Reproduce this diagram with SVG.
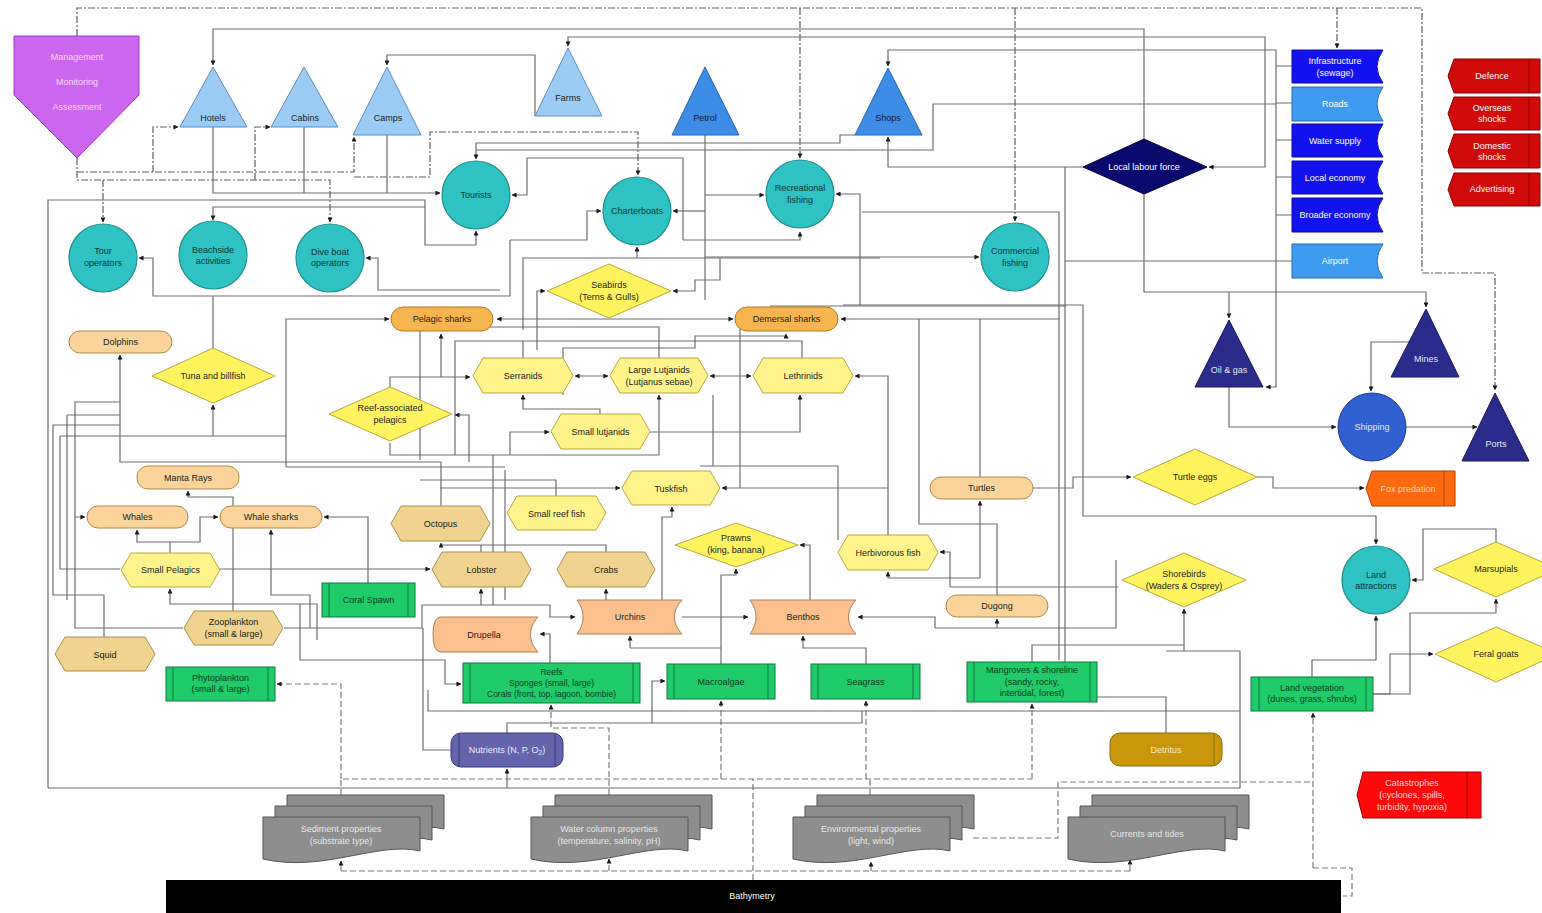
<svg xmlns="http://www.w3.org/2000/svg" width="1542" height="913" viewBox="0 0 1542 913">
<defs>
<marker id="a" viewBox="0 0 6 6" refX="5.5" refY="3" markerWidth="5" markerHeight="5" orient="auto-start-reverse" markerUnits="userSpaceOnUse"><path d="M0,0 L6,3 L0,6 z" fill="#1a1a1a"/></marker>
<path id="doc" d="M0,0 H157 V34 C115,24 60,56 0,42 Z"/>
<style>
.c{fill:none;stroke:#6e6e6e;stroke-width:1.2}
.d{fill:none;stroke:#7a7a7a;stroke-width:1.2;stroke-dasharray:6 3}
.dd{fill:none;stroke:#5e5e5e;stroke-width:1.2;stroke-dasharray:7 2 2 2}
text{font-family:"Liberation Sans",Arial,sans-serif;font-size:9px;text-anchor:middle;fill:#222}
text.w{fill:#ffffff}
text.lw{fill:#e6e6e6}
text.pk{fill:#f5d8ff}
text.nv{fill:#101840}
text.fx{fill:#ffd6b8}
text.nu{fill:#ececff}
text.de{fill:#f8ecc8}
text.ca{fill:#ffdcdc}
text.gt{fill:#0b3d1d}
text.ct{fill:#0c3636}
.tl{fill:#9ccbf4;stroke:#5a8ec0;stroke-width:1}
.tm{fill:#3d8de6;stroke:#2465b0;stroke-width:1}
.tn{fill:#2b2b8c;stroke:#181860;stroke-width:1}
.ci{fill:#2fc2c2;stroke:#1f8f8f;stroke-width:1.2}
.bb{fill:#1212ee;stroke:#0a0a9a;stroke-width:1}
.bl{fill:#3f9bef;stroke:#2468b0;stroke-width:1}
.rd{fill:#d10a0a;stroke:#8a0000;stroke-width:1}
.yd{fill:#fff45e;stroke:#b8a83a;stroke-width:1}
.yh{fill:#fff48c;stroke:#b8a83a;stroke-width:1}
.th{fill:#efd38e;stroke:#a8904c;stroke-width:1}
.pl{fill:#fbd49c;stroke:#b0874a;stroke-width:1}
.sh{fill:#f7b550;stroke:#b07a20;stroke-width:1}
.pe{fill:#fbc08e;stroke:#b08050;stroke-width:1}
.gr{fill:#1fcb6b;stroke:#0c7a3c;stroke-width:1}
.gl{stroke:#0c7a3c;stroke-width:1}
.gd{fill:#8e8e8e;stroke:#555;stroke-width:1}
</style>
</defs>
<rect x="0" y="0" width="1542" height="913" fill="#ffffff"/>

<g id="connectors">
<path class="dd" d="M77,36 V8 H1422 V273 H1495 V390" marker-end="url(#a)"/>
<path class="dd" d="M800,8 V158" marker-end="url(#a)"/>
<path class="dd" d="M1015,8 V221" marker-end="url(#a)"/>
<path class="dd" d="M1337,8 V48" marker-end="url(#a)"/>
<path class="dd" d="M77,158 V180 H330 V222" marker-end="url(#a)"/>
<path class="dd" d="M77,172 H354 V137" marker-end="url(#a)"/>
<path class="dd" d="M103,180 V222" marker-end="url(#a)"/>
<path class="dd" d="M153,172 V127 H178" marker-end="url(#a)"/>
<path class="dd" d="M255,180 V127 H270" marker-end="url(#a)"/>
<path class="dd" d="M354,177 H430 V132 H638 V175" marker-end="url(#a)"/>
<path class="d" d="M341,795 V779 H1032"/>
<path class="d" d="M341,779 V684 H277" marker-end="url(#a)"/>
<path class="d" d="M609,795 V728 H551 V705" marker-end="url(#a)"/>
<path class="d" d="M721,779 V701" marker-end="url(#a)"/>
<path class="d" d="M866,779 V701" marker-end="url(#a)"/>
<path class="d" d="M1032,779 V704" marker-end="url(#a)"/>
<path class="d" d="M870,795 V779"/>
<path class="d" d="M753,880 V779"/>
<path class="d" d="M973,838 H1058 V782 H1313"/>
<path class="d" d="M1313,868 V713" marker-end="url(#a)"/>
<path class="d" d="M1313,868 H1352 V896 H1343"/>
<path class="d" d="M341,871 H1130"/>
<path class="d" d="M341,871 V861" marker-end="url(#a)"/>
<path class="d" d="M609,871 V859" marker-end="url(#a)"/>
<path class="d" d="M871,871 V862" marker-end="url(#a)"/>
<path class="d" d="M1130,871 V860" marker-end="url(#a)"/>
<path class="c" d="M1144,139 V29 H213 V65" marker-end="url(#a)"/>
<path class="c" d="M535,116 V55 H387 V65" marker-end="url(#a)"/>
<path class="c" d="M1209,167 H1265 V37 H568 V46" marker-start="url(#a)" marker-end="url(#a)"/>
<path class="c" d="M1276,215 V50 H888 V66" marker-end="url(#a)"/>
<path class="c" d="M1276,66 H1292 M1276,103 H1292 M1276,140 H1292 M1276,177 H1292 M1276,215 H1292"/>
<path class="c" d="M1276,104 H933 V150 H476"/>
<path class="c" d="M855,135 H840 V143 H476 V159" marker-end="url(#a)"/>
<path class="c" d="M1083,167 H888 V137" marker-end="url(#a)"/>
<path class="c" d="M1276,215 V387 H1266" marker-end="url(#a)"/>
<path class="c" d="M1292,261 H1065"/>
<path class="c" d="M1166,733 V697 H1065 V167"/>
<path class="c" d="M862,212 H1059 V660"/>
<path class="c" d="M1144,194 V292 H1426 V307" marker-end="url(#a)"/>
<path class="c" d="M1229,292 V318" marker-end="url(#a)"/>
<path class="c" d="M1229,387 V427 H1336" marker-end="url(#a)"/>
<path class="c" d="M1409,342 H1371 V391" marker-end="url(#a)"/>
<path class="c" d="M1406,427 H1477" marker-end="url(#a)"/>
<path class="c" d="M705,135 V300"/>
<path class="c" d="M705,195 H764" marker-end="url(#a)"/>
<path class="c" d="M705,211 H673" marker-end="url(#a)"/>
<path class="c" d="M705,257 H979" marker-end="url(#a)"/>
<path class="c" d="M860,305 V194 H836" marker-end="url(#a)"/>
<path class="c" d="M843,305 H1083 V516 H1376 V544" marker-end="url(#a)"/>
<path class="c" d="M1033,488 H1073 V477 H1131" marker-end="url(#a)"/>
<path class="c" d="M1257,477 H1273 V488 H1364" marker-end="url(#a)"/>
<path class="c" d="M1496,542 V529 H1423 V580 H1412" marker-end="url(#a)"/>
<path class="c" d="M1312,677 V660 H1376 V616" marker-end="url(#a)"/>
<path class="c" d="M1373,694 H1390 V654 H1433" marker-end="url(#a)"/>
<path class="c" d="M1373,694 H1410 V613 H1496 V599" marker-end="url(#a)"/>
<path class="c" d="M48,788 V200 H425 V245 H476 V231" marker-end="url(#a)"/>
<path class="c" d="M48,788 H1240 V651 H1166"/>
<path class="c" d="M425,207 H213 V220" marker-end="url(#a)"/>
<path class="c" d="M213,127 V193 H440" marker-end="url(#a)"/>
<path class="c" d="M304,127 V193 M387,135 V193"/>
<path class="c" d="M683,240 V158 H527 V195 H512" marker-end="url(#a)"/>
<path class="c" d="M683,240 H800 V232" marker-end="url(#a)"/>
<path class="c" d="M510,240 V296 H153 V258 H139" marker-end="url(#a)"/>
<path class="c" d="M510,240 H587 V211 H601" marker-end="url(#a)"/>
<path class="c" d="M500,290 H378 V258 H366" marker-end="url(#a)"/>
<path class="c" d="M523,330 V258 H880"/>
<path class="c" d="M637,258 V247" marker-end="url(#a)"/>
<path class="c" d="M720,258 V280 H695 V291 H673" marker-end="url(#a)"/>
<path class="c" d="M537,350 V291 H545" marker-end="url(#a)"/>
<path class="c" d="M213,348 V296"/>
<path class="c" d="M497,319 H733" marker-start="url(#a)" marker-end="url(#a)"/>
<path class="c" d="M286,467 V319 H389" marker-end="url(#a)"/>
<path class="c" d="M441,377 V334" marker-end="url(#a)"/>
<path class="c" d="M390,387 V377 H470" marker-end="url(#a)"/>
<path class="c" d="M659,358 V327 H420 V460"/>
<path class="c" d="M802,358 V341 H455 V455"/>
<path class="c" d="M523,358 V341"/>
<path class="c" d="M563,395 V348 H695 V336 H786 V334" marker-end="url(#a)"/>
<path class="c" d="M1060,319 H841" marker-end="url(#a)"/>
<path class="c" d="M770,306 H1066"/>
<path class="c" d="M919,319 V524 H997 V595"/>
<path class="c" d="M980,477 V319"/>
<path class="c" d="M575,376 H608" marker-start="url(#a)" marker-end="url(#a)"/>
<path class="c" d="M710,376 H751" marker-start="url(#a)" marker-end="url(#a)"/>
<path class="c" d="M888,535 V376 H855" marker-end="url(#a)"/>
<path class="c" d="M888,488 H722" marker-end="url(#a)"/>
<path class="c" d="M440,488 H620" marker-end="url(#a)"/>
<path class="c" d="M600,414 V409 H523 V395" marker-end="url(#a)"/>
<path class="c" d="M390,443 V455 H659 V395" marker-end="url(#a)"/>
<path class="c" d="M650,432 H800 V395" marker-end="url(#a)"/>
<path class="c" d="M510,455 V432 H549" marker-end="url(#a)"/>
<path class="c" d="M469,462 V415 H455" marker-end="url(#a)"/>
<path class="c" d="M441,506 V462 H120 V355" marker-end="url(#a)"/>
<path class="c" d="M60,436 H286"/>
<path class="c" d="M213,436 V405" marker-end="url(#a)"/>
<path class="c" d="M286,467 H505"/>
<path class="c" d="M233,611 V497 H188 V491" marker-end="url(#a)"/>
<path class="c" d="M120,402 H75 V517 H85" marker-end="url(#a)"/>
<path class="c" d="M170,553 V542 H137 V530" marker-end="url(#a)"/>
<path class="c" d="M170,542 H200 V517 H218" marker-end="url(#a)"/>
<path class="c" d="M368,583 V517 H324" marker-end="url(#a)"/>
<path class="c" d="M310,628 V595 H271 V530" marker-end="url(#a)"/>
<path class="c" d="M60,436 V569 H120 M220,569 H430" marker-end="url(#a)"/>
<path class="c" d="M317,640 V604 H170 V589" marker-end="url(#a)"/>
<path class="c" d="M75,517 V628 H183"/>
<path class="c" d="M300,604 V660 H445 V684 H461" marker-end="url(#a)"/>
<path class="c" d="M284,628 H422 V605 H481 V589" marker-end="url(#a)"/>
<path class="c" d="M481,605 H550 V617 H575" marker-end="url(#a)"/>
<path class="c" d="M550,663 V634 H540" marker-end="url(#a)"/>
<path class="c" d="M507,788 V769" marker-end="url(#a)"/>
<path class="c" d="M507,733 V723 H652 V681 H665" marker-end="url(#a)"/>
<path class="c" d="M451,750 H423 V628"/>
<path class="c" d="M428,690 V711 H1240"/>
<path class="c" d="M652,723 H862 V711"/>
<path class="c" d="M630,648 V636" marker-end="url(#a)"/>
<path class="c" d="M630,648 H721"/>
<path class="c" d="M682,617 H748" marker-end="url(#a)"/>
<path class="c" d="M721,664 V575 H736 V569" marker-end="url(#a)"/>
<path class="c" d="M866,664 V648 H803 V636" marker-end="url(#a)"/>
<path class="c" d="M935,628 V617 H858" marker-end="url(#a)"/>
<path class="c" d="M935,628 H1116 V560"/>
<path class="c" d="M997,628 V619" marker-end="url(#a)"/>
<path class="c" d="M980,578 H888 V572" marker-end="url(#a)"/>
<path class="c" d="M980,578 V501" marker-end="url(#a)"/>
<path class="c" d="M950,587 V552 H940" marker-end="url(#a)"/>
<path class="c" d="M950,587 H1118"/>
<path class="c" d="M810,600 V545 H800" marker-end="url(#a)"/>
<path class="c" d="M700,466 H838 V540"/>
<path class="c" d="M662,600 V517 H672 V507" marker-end="url(#a)"/>
<path class="c" d="M606,600 V589" marker-end="url(#a)"/>
<path class="c" d="M606,552 V545 H441 V543" marker-end="url(#a)"/>
<path class="c" d="M481,552 V545"/>
<path class="c" d="M556,496 V480 H420"/>
<path class="c" d="M493,455 V605"/>
<path class="c" d="M505,470 V600"/>
<path class="c" d="M1184,651 V609" marker-end="url(#a)"/>
<path class="c" d="M1032,662 V645 H1184"/>
<path class="c" d="M104,637 V595 H53 V425 H120"/>
<path class="c" d="M67,415 H120 M67,415 V600"/>
<path class="c" d="M740,320 V488"/>
<path class="c" d="M713,395 V466"/>
</g>

<g id="management"><path d="M14,36 H139 V95 L77,158 L14,95 Z" fill="#cc66ee" stroke="#9b3cc0"/><text class="pk" x="77" y="60">Management</text><text class="pk" x="77" y="85">Monitoring</text><text class="pk" x="77" y="110">Assessment</text></g>

<g id="hotels"><polygon class="tl" points="213,67 180,127 247,127"/><text x="213" y="121">Hotels</text></g>
<g id="cabins"><polygon class="tl" points="304,67 271,127 338,127"/><text x="305" y="121">Cabins</text></g>
<g id="camps"><polygon class="tl" points="387,67 353,135 421,135"/><text x="388" y="121">Camps</text></g>
<g id="farms"><polygon class="tl" points="568,48 535,116 602,116"/><text x="568" y="101">Farms</text></g>
<g id="petrol"><polygon class="tm" points="705,67 672,135 739,135"/><text class="nv" x="705" y="121">Petrol</text></g>
<g id="shops"><polygon class="tm" points="888,68 855,135 922,135"/><text class="nv" x="888" y="121">Shops</text></g>

<g id="infrastructure"><path class="bb" d="M1292,50 H1383 Q1371,66.5 1383,83 H1292 Z"/><text class="w" x="1335" y="64">Infrastructure</text><text class="w" x="1335" y="76">(sewage)</text></g>
<g id="roads"><path class="bl" d="M1292,87 H1383 Q1371,104 1383,121 H1292 Z"/><text class="w" x="1335" y="107">Roads</text></g>
<g id="water-supply"><path class="bb" d="M1292,124 H1383 Q1371,140.5 1383,157 H1292 Z"/><text class="w" x="1335" y="144">Water supply</text></g>
<g id="local-economy"><path class="bb" d="M1292,161 H1383 Q1371,177.5 1383,194 H1292 Z"/><text class="w" x="1335" y="181">Local economy</text></g>
<g id="broader-economy"><path class="bb" d="M1292,198 H1383 Q1371,215 1383,232 H1292 Z"/><text class="w" x="1335" y="218">Broader economy</text></g>
<g id="airport"><path class="bl" d="M1292,244 H1383 Q1371,261 1383,278 H1292 Z"/><text class="w" x="1335" y="264">Airport</text></g>

<g id="defence"><path class="rd" d="M1454,59 H1540 V93 H1454 L1448,76 Z"/><line x1="1529" y1="59" x2="1529" y2="93" stroke="#8a0000"/><text class="w" x="1492" y="79">Defence</text></g>
<g id="overseas"><path class="rd" d="M1454,97 H1540 V130 H1454 L1448,113.5 Z"/><line x1="1529" y1="97" x2="1529" y2="130" stroke="#8a0000"/><text class="w" x="1492" y="111">Overseas</text><text class="w" x="1492" y="122">shocks</text></g>
<g id="domestic"><path class="rd" d="M1454,134 H1540 V168 H1454 L1448,151 Z"/><line x1="1529" y1="134" x2="1529" y2="168" stroke="#8a0000"/><text class="w" x="1492" y="149">Domestic</text><text class="w" x="1492" y="160">shocks</text></g>
<g id="advertising"><path class="rd" d="M1454,173 H1540 V206 H1454 L1448,189.5 Z"/><line x1="1529" y1="173" x2="1529" y2="206" stroke="#8a0000"/><text class="w" x="1492" y="192">Advertising</text></g>

<g id="labour"><polygon points="1083,167 1144,139 1207,167 1144,194" fill="#0a0a6e" stroke="#050540"/><text class="w" x="1144" y="170">Local labour force</text></g>

<g id="tourists"><circle class="ci" cx="476" cy="195" r="34"/><text class="ct" x="476" y="198">Tourists</text></g>
<g id="charterboats"><circle class="ci" cx="637" cy="211" r="34"/><text class="ct" x="637" y="214">Charterboats</text></g>
<g id="recreational"><circle class="ci" cx="800" cy="194" r="34"/><text class="ct" x="800" y="191">Recreational</text><text class="ct" x="800" y="203">fishing</text></g>
<g id="commercial"><circle class="ci" cx="1015" cy="257" r="34"/><text class="ct" x="1015" y="254">Commercial</text><text class="ct" x="1015" y="266">fishing</text></g>
<g id="tour-operators"><circle class="ci" cx="103" cy="258" r="34"/><text class="ct" x="103" y="254">Tour</text><text class="ct" x="103" y="266">operators</text></g>
<g id="beachside"><circle class="ci" cx="213" cy="255" r="34"/><text class="ct" x="213" y="253">Beachside</text><text class="ct" x="213" y="264">activities</text></g>
<g id="diveboat"><circle class="ci" cx="330" cy="258" r="34"/><text class="ct" x="330" y="255">Dive boat</text><text class="ct" x="330" y="266">operators</text></g>

<g id="oilgas"><polygon class="tn" points="1229,320 1195,387 1263,387"/><text class="lw" x="1229" y="373">Oil &amp; gas</text></g>
<g id="mines"><polygon class="tn" points="1426,309 1391,377 1459,377"/><text class="lw" x="1426" y="362">Mines</text></g>
<g id="shipping"><circle cx="1372" cy="427" r="34" fill="#3060d0" stroke="#1c3c90"/><text class="lw" x="1372" y="430">Shipping</text></g>
<g id="ports"><polygon class="tn" points="1495,393 1462,461 1529,461"/><text class="lw" x="1496" y="447">Ports</text></g>

<g id="seabirds"><polygon class="yd" points="547,291 609,264 671,291 609,318"/><text x="609" y="288">Seabirds</text><text x="609" y="300">(Terns &amp; Gulls)</text></g>
<g id="tuna"><polygon class="yd" points="152,376 213,348 275,376 213,403"/><text x="213" y="379">Tuna and billfish</text></g>
<g id="reef-pelagics"><polygon class="yd" points="329,414 390,387 452,414 390,441"/><text x="390" y="411">Reef-associated</text><text x="390" y="423">pelagics</text></g>
<g id="turtle-eggs"><polygon class="yd" points="1133,477 1195,449 1257,477 1195,505"/><text x="1195" y="480">Turtle eggs</text></g>
<g id="prawns"><polygon class="yd" points="675,545 736,523 798,545 736,567"/><text x="736" y="541">Prawns</text><text x="736" y="553">(king, banana)</text></g>
<g id="shorebirds"><polygon class="yd" points="1122,580 1184,553 1246,580 1184,607"/><text x="1184" y="577">Shorebirds</text><text x="1184" y="589">(Waders &amp; Osprey)</text></g>
<g id="marsupials"><polygon class="yd" points="1434,569 1496,542 1558,569 1496,597"/><text x="1496" y="572">Marsupials</text></g>
<g id="feral-goats"><polygon class="yd" points="1435,654 1496,627 1558,654 1496,682"/><text x="1496" y="657">Feral goats</text></g>
<g id="fox"><path d="M1372,471 H1455 V506 H1372 L1366,488.5 Z" fill="#ff6a10" stroke="#b04000"/><line x1="1444" y1="471" x2="1444" y2="506" stroke="#b04000"/><text class="fx" x="1408" y="491.5">Fox predation</text></g>
<g id="land-attractions"><circle class="ci" cx="1376" cy="580" r="34"/><text class="ct" x="1376" y="578">Land</text><text class="ct" x="1376" y="589">attractions</text></g>

<g id="pelagic-sharks"><rect class="sh" x="391" y="307" width="102" height="24" rx="12"/><text x="442" y="322">Pelagic sharks</text></g>
<g id="demersal-sharks"><rect class="sh" x="735" y="307" width="103" height="24" rx="12"/><text x="786.5" y="322">Demersal sharks</text></g>
<g id="dolphins"><rect class="pl" x="69" y="331" width="103" height="22" rx="11"/><text x="120.5" y="345">Dolphins</text></g>
<g id="manta"><rect class="pl" x="137" y="466" width="102" height="23" rx="11"/><text x="188" y="480.5">Manta Rays</text></g>
<g id="whales"><rect class="pl" x="87" y="506" width="101" height="22" rx="11"/><text x="137.5" y="520">Whales</text></g>
<g id="whale-sharks"><rect class="pl" x="220" y="506" width="102" height="22" rx="11"/><text x="271" y="520">Whale sharks</text></g>
<g id="turtles"><rect class="pl" x="930" y="477" width="103" height="22" rx="11"/><text x="981.5" y="491">Turtles</text></g>
<g id="dugong"><rect class="pl" x="946" y="595" width="102" height="22" rx="11"/><text x="997" y="609">Dugong</text></g>

<g id="small-pelagics"><polygon class="yh" points="121,570 131,553 210,553 220,570 210,587 131,587"/><text x="170.5" y="573">Small Pelagics</text></g>
<g id="serranids"><polygon class="yh" points="473,375.5 483,358 563,358 573,375.5 563,393 483,393"/><text x="523" y="379">Serranids</text></g>
<g id="large-lutjanids"><polygon class="yh" points="610,375.5 620,358 698,358 708,375.5 698,393 620,393"/><text x="659" y="373">Large Lutjanids</text><text x="659" y="384.5">(Lutjanus sebae)</text></g>
<g id="lethrinids"><polygon class="yh" points="753,375.5 763,358 843,358 853,375.5 843,393 763,393"/><text x="803" y="379">Lethrinids</text></g>
<g id="small-lutjanids"><polygon class="yh" points="551,431.5 561,414 640,414 650,431.5 640,449 561,449"/><text x="600.5" y="435">Small lutjanids</text></g>
<g id="tuskfish"><polygon class="yh" points="622,488 632,471 710,471 720,488 710,505 632,505"/><text x="671" y="491.5">Tuskfish</text></g>
<g id="small-reef-fish"><polygon class="yh" points="507,513 517,496 596,496 606,513 596,530 517,530"/><text x="556.5" y="516.5">Small reef fish</text></g>
<g id="herbivorous"><polygon class="yh" points="838,552.5 848,535 928,535 938,552.5 928,570 848,570"/><text x="888" y="556">Herbivorous fish</text></g>
<g id="octopus"><polygon class="th" points="391,523.5 401,506 480,506 490,523.5 480,541 401,541"/><text x="440.5" y="527">Octopus</text></g>
<g id="lobster"><polygon class="th" points="432,569.5 442,552 521,552 531,569.5 521,587 442,587"/><text x="481.5" y="573">Lobster</text></g>
<g id="crabs"><polygon class="th" points="557,569.5 567,552 645,552 655,569.5 645,587 567,587"/><text x="606" y="573">Crabs</text></g>
<g id="squid"><polygon class="th" points="55,654 65,637 145,637 155,654 145,671 65,671"/><text x="105" y="657.5">Squid</text></g>
<g id="zooplankton"><polygon class="th" points="184,628 194,611 273,611 283,628 273,645 194,645"/><text x="233.5" y="625">Zooplankton</text><text x="233.5" y="637">(small &amp; large)</text></g>

<g id="coral-spawn"><rect class="gr" x="322" y="583" width="93" height="34"/><line class="gl" x1="329" y1="583" x2="329" y2="617"/><line class="gl" x1="408" y1="583" x2="408" y2="617"/><text class="gt" x="368.5" y="603">Coral Spawn</text></g>
<g id="phytoplankton"><rect class="gr" x="166" y="667" width="109" height="34"/><line class="gl" x1="173" y1="667" x2="173" y2="701"/><line class="gl" x1="268" y1="667" x2="268" y2="701"/><text class="gt" x="220.5" y="681">Phytoplankton</text><text class="gt" x="220.5" y="692">(small &amp; large)</text></g>
<g id="reefs"><rect class="gr" x="463" y="663" width="177" height="40"/><line class="gl" x1="470" y1="663" x2="470" y2="703"/><line class="gl" x1="633" y1="663" x2="633" y2="703"/><text class="gt" x="551.5" y="675" style="font-size:8.5px">Reefs</text><text class="gt" x="551.5" y="686" style="font-size:8.5px">Sponges (small, large)</text><text class="gt" x="551.5" y="697" style="font-size:8.5px">Corals (front, top, lagoon, bombie)</text></g>
<g id="macroalgae"><rect class="gr" x="667" y="664" width="108" height="35"/><line class="gl" x1="674" y1="664" x2="674" y2="699"/><line class="gl" x1="768" y1="664" x2="768" y2="699"/><text class="gt" x="721" y="684.5">Macroalgae</text></g>
<g id="seagrass"><rect class="gr" x="811" y="664" width="109" height="35"/><line class="gl" x1="818" y1="664" x2="818" y2="699"/><line class="gl" x1="913" y1="664" x2="913" y2="699"/><text class="gt" x="865.5" y="684.5">Seagrass</text></g>
<g id="mangroves"><rect class="gr" x="967" y="662" width="130" height="40"/><line class="gl" x1="974" y1="662" x2="974" y2="702"/><line class="gl" x1="1090" y1="662" x2="1090" y2="702"/><text class="gt" x="1032" y="673">Mangroves &amp; shoreline</text><text class="gt" x="1032" y="684.5">(sandy, rocky,</text><text class="gt" x="1032" y="696">intertidal, forest)</text></g>
<g id="land-vegetation"><rect class="gr" x="1251" y="677" width="122" height="34"/><line class="gl" x1="1259" y1="677" x2="1259" y2="711"/><line class="gl" x1="1366" y1="677" x2="1366" y2="711"/><text class="gt" x="1312" y="691">Land vegetation</text><text class="gt" x="1312" y="702">(dunes, grass, shrubs)</text></g>

<g id="drupella"><path class="pe" d="M441,617 H538 C528,628 528,641 538,652 H441 Q433,652 433,634.5 Q433,617 441,617 Z"/><text x="484" y="637.5">Drupella</text></g>
<g id="urchins"><path class="pe" d="M577,600 H682 C672,611 672,623 682,634 H577 C585,623 585,611 577,600 Z"/><text x="630" y="620">Urchins</text></g>
<g id="benthos"><path class="pe" d="M750,600 H856 C846,611 846,623 856,634 H750 C758,623 758,611 750,600 Z"/><text x="803" y="620">Benthos</text></g>

<g id="nutrients"><rect x="451" y="733" width="112" height="34" rx="10" fill="#6464ac" stroke="#3a3a7a"/><line x1="459" y1="734" x2="459" y2="766" stroke="#3a3a7a"/><line x1="555" y1="734" x2="555" y2="766" stroke="#3a3a7a"/><text class="nu" x="507" y="753">Nutrients (N, P, O<tspan dy="2" style="font-size:6.5px">2</tspan><tspan dy="-2">)</tspan></text></g>
<g id="detritus"><rect x="1110" y="733" width="112" height="33" rx="10" fill="#c9960c" stroke="#8a6a08"/><line x1="1214" y1="734" x2="1214" y2="765" stroke="#8a6a08"/><text class="de" x="1166" y="753">Detritus</text></g>

<g id="catastrophes"><path d="M1363,772 H1481 V818 H1363 L1357,795 Z" fill="#ff0a0a" stroke="#a00000"/><line x1="1467" y1="772" x2="1467" y2="818" stroke="#a00000"/><text class="ca" x="1412" y="786">Catastrophes</text><text class="ca" x="1412" y="798">(cyclones, spills,</text><text class="ca" x="1412" y="810">turbidity, hypoxia)</text></g>

<g id="sediment"><use href="#doc" x="287" y="795" class="gd"/><use href="#doc" x="275" y="806" class="gd"/><use href="#doc" x="263" y="817" class="gd"/><text class="lw" x="341" y="832">Sediment properties</text><text class="lw" x="341" y="844">(substrate type)</text></g>
<g id="water-column"><use href="#doc" x="555" y="795" class="gd"/><use href="#doc" x="543" y="806" class="gd"/><use href="#doc" x="531" y="817" class="gd"/><text class="lw" x="609" y="832">Water column properties</text><text class="lw" x="609" y="844">(temperature, salinity, pH)</text></g>
<g id="environmental"><use href="#doc" x="817" y="795" class="gd"/><use href="#doc" x="805" y="806" class="gd"/><use href="#doc" x="793" y="817" class="gd"/><text class="lw" x="871" y="832">Environmental properties</text><text class="lw" x="871" y="844">(light, wind)</text></g>
<g id="currents"><use href="#doc" x="1092" y="795" class="gd"/><use href="#doc" x="1080" y="806" class="gd"/><use href="#doc" x="1068" y="817" class="gd"/><text class="lw" x="1147" y="837">Currents and tides</text></g>

<g id="bathymetry"><rect x="166" y="880" width="1175" height="33" fill="#000000"/><text class="w" x="752" y="899">Bathymetry</text></g>
</svg>
